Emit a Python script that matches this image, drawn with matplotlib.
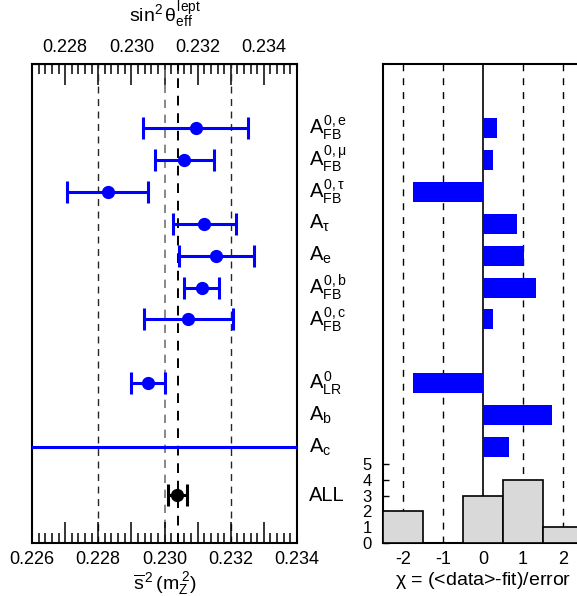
import numpy as np
import matplotlib
matplotlib.use('Agg')
import matplotlib.pyplot as plt
from matplotlib.ticker import MultipleLocator, FuncFormatter, FixedLocator

plt.rcParams['font.family'] = ['Liberation Sans', 'DejaVu Sans']
plt.rcParams['mathtext.fontset'] = 'custom'
plt.rcParams['mathtext.rm'] = 'Liberation Sans'
plt.rcParams['mathtext.it'] = 'Liberation Sans'
plt.rcParams['mathtext.bf'] = 'Liberation Sans:bold'
plt.rcParams['axes.unicode_minus'] = False

# messungen
labels = [r'$A^{0,e}_{FB}$', r'$A^{0,\mu}_{FB}$', r'$A^{0,\tau}_{FB}$', r'$A_{\tau}$',
          r'$A_{e}$', r'$A^{0,b}_{FB}$', r'$A^{0,c}_{FB}$', r'$A^{0}_{LR}$',
          r'$A_{b}$', r'$A_{c}$']
rows = [13, 12, 11, 10, 9, 8, 7, 5, 4, 3]
s2 = [0.23094, 0.23060, 0.22828, 0.23120, 0.23156, 0.23112, 0.23072, 0.22950, 0.24500, 0.22260]
s2_err = [0.00159, 0.00090, 0.00122, 0.00095, 0.00113, 0.00053, 0.00134, 0.00051, 0.00600, 0.01500]
chi = [0.35, 0.24, -1.76, 0.85, 1.03, 1.33, 0.25, -1.75, 1.73, 0.65]

all_val = 0.23039
all_err = 0.00029
all_row = 1.5
fit_val = 0.23040

top_ticks = [0.227, 0.228, 0.229, 0.230, 0.231, 0.232, 0.233, 0.234, 0.235]
hist_bins = [-2.5, -1.5, -0.5, 0.5, 1.5, 2.5]

fig = plt.figure(figsize=(5.77, 5.96), dpi=100)

# linkes Panel
ax = fig.add_axes([32/577, 53/596, 265/577, 479/596])
ax.set_xlim(0.226, 0.234)
ax.set_ylim(0, 15)
for x in [0.228, 0.232]:
    ax.axvline(x, color='0.15', lw=1.0, ls=(0, (5, 4)), zorder=1)
ax.axvline(0.230, color='0.45', lw=1.2, ls=(0, (5, 4)), zorder=1)
ax.axvline(fit_val, color='black', lw=1.4, ls=(0, (5, 4)), zorder=1)

ax.errorbar(s2, rows, xerr=s2_err, fmt='o', color='#0000ff', ms=8.5, lw=2.2,
            capsize=8, capthick=2.2, zorder=3)
ax.errorbar([all_val], [all_row], xerr=[all_err], fmt='o', color='black', ms=8.5,
            lw=2.2, capsize=8, capthick=2.2, zorder=3)

for lab, r in zip(labels, rows):
    ax.text(1.045, r, lab, transform=ax.get_yaxis_transform(), fontsize=14.5,
            va='center', ha='left')
ax.text(1.045, all_row, 'ALL', transform=ax.get_yaxis_transform(), fontsize=14.5,
        va='center', ha='left')

ax.set_yticks([])
ax.xaxis.set_major_locator(MultipleLocator(0.001))
ax.xaxis.set_minor_locator(MultipleLocator(0.0002))

def even_lab(x, pos):
    if int(round(x / 0.001)) % 2 == 0:
        return '%.3f' % x
    return ''

ax.xaxis.set_major_formatter(FuncFormatter(even_lab))
ax.tick_params(axis='x', which='major', direction='in', length=15, width=1.1,
               labelsize=13, pad=6)
ax.tick_params(axis='x', which='minor', direction='in', length=7, width=1.1)
for sp in ax.spines.values():
    sp.set_linewidth(1.5)
ax.set_xlabel(r'$\overline{s}^{\,2}\,(m_Z^{\,2})$', fontsize=14, labelpad=1)

# obere Achse: sin2theta = s2 + 0.001
top = ax.secondary_xaxis('top', functions=(lambda x: x + 0.001, lambda x: x - 0.001))
top.xaxis.set_major_locator(FixedLocator(top_ticks))
top.xaxis.set_minor_locator(MultipleLocator(0.0002))
top.xaxis.set_major_formatter(FuncFormatter(even_lab))
top.tick_params(axis='x', which='major', direction='in', length=15, width=1.1,
                labelsize=13, pad=6)
top.tick_params(axis='x', which='minor', direction='in', length=7, width=1.1)
top.set_xlabel(r'$\sin^2\theta^{lept}_{eff}$', fontsize=14, labelpad=12)

# rechtes Panel
ax2 = fig.add_axes([383/577, 53/596, 200/577, 479/596])
ax2.set_xlim(-2.5, 2.5)
ax2.set_ylim(0, 15)
for x in [-2, -1, 1, 2]:
    ax2.axvline(x, color='black', lw=1.0, ls=(0, (5, 5)), zorder=1)
ax2.axvline(0, color='black', lw=1.2, zorder=1)
ax2.barh(rows, chi, height=0.625, color='#0000ff', zorder=2)
ax2.set_yticks([])
ax2.set_xticks([-2, -1, 0, 1, 2])
ax2.tick_params(axis='x', length=0, labelsize=13, pad=6)
for sp in ax2.spines.values():
    sp.set_linewidth(1.5)
ax2.set_xlabel(r'$\chi$ = (<data>-fit)/error', fontsize=14, labelpad=1)

# Histogramm
axh = fig.add_axes([383/577, 53/596, 200/577, 79/596])
axh.patch.set_alpha(0)
axh.set_xlim(-2.5, 2.5)
axh.set_ylim(0, 5)
axh.hist(chi, bins=hist_bins, color='#d9d9d9', edgecolor='black', lw=1.2, zorder=3)
for sp in axh.spines.values():
    sp.set_visible(False)
axh.set_xticks([])
axh.set_yticks([0, 1, 2, 3, 4, 5])
axh.tick_params(axis='y', direction='in', length=4, width=1, labelsize=12, pad=8)

fig.savefig('out.png', dpi=100)
